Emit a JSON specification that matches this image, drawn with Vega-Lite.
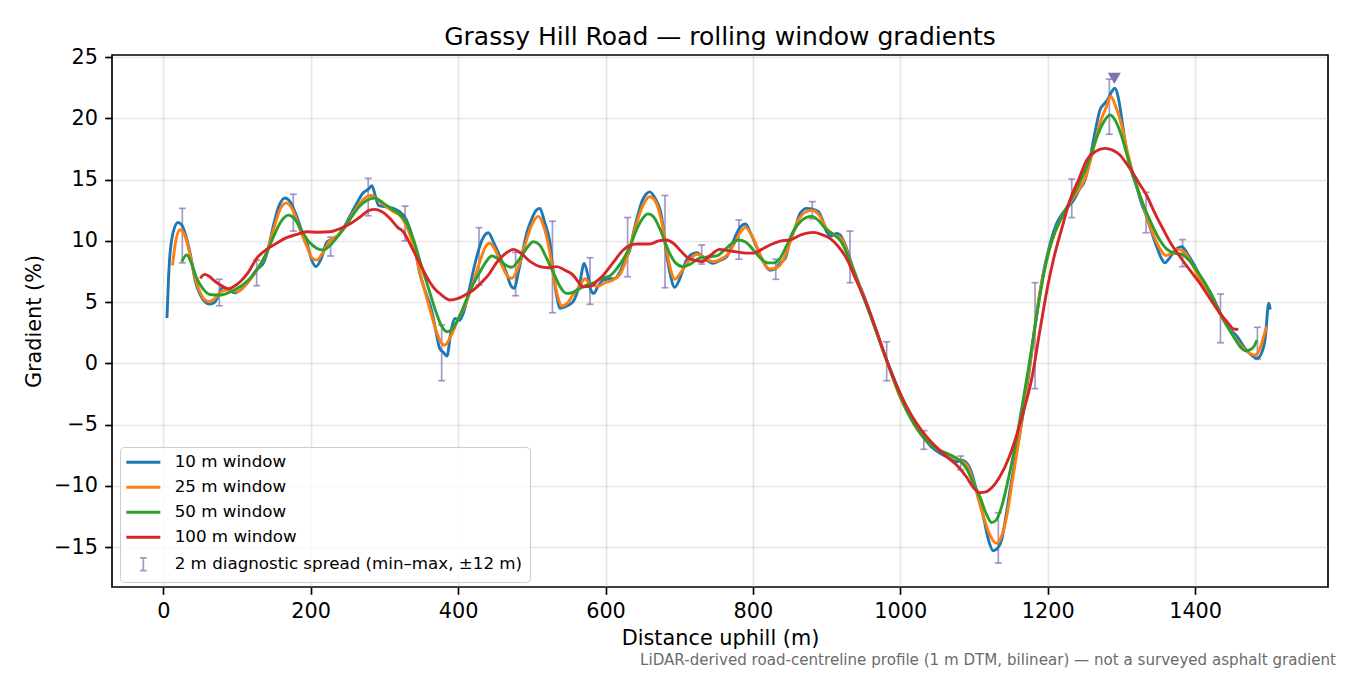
{
  "$schema": "https://vega.github.io/schema/vega-lite/v6.json",
  "width": 1216,
  "height": 532,
  "autosize": {"type": "none"},
  "padding": {"left": 112, "top": 55, "right": 22, "bottom": 88},
  "background": "white",
  "title": {
    "text": "Grassy Hill Road — rolling window gradients",
    "font": "DejaVu Sans",
    "fontSize": 25,
    "fontWeight": "normal",
    "color": "black",
    "anchor": "middle",
    "frame": "group",
    "baseline": "alphabetic",
    "offset": 13,
    "dy": 37
  },
  "datasets": {
    "lines": [
      {"s":"10 m window","x":5,"y":3.7},{"s":"10 m window","x":8,"y":8.0},{"s":"10 m window","x":13,"y":10.6},{"s":"10 m window","x":20,"y":11.5},{"s":"10 m window","x":25,"y":11.3},{"s":"10 m window","x":32,"y":10.1},{"s":"10 m window","x":38,"y":8.5},{"s":"10 m window","x":43,"y":6.8},{"s":"10 m window","x":50,"y":5.6},{"s":"10 m window","x":57,"y":5.0},{"s":"10 m window","x":63,"y":4.84},{"s":"10 m window","x":70,"y":5.0},{"s":"10 m window","x":76,"y":5.7},{"s":"10 m window","x":80,"y":6.2},{"s":"10 m window","x":88,"y":6.0},{"s":"10 m window","x":97,"y":5.75},{"s":"10 m window","x":105,"y":6.0},{"s":"10 m window","x":117,"y":6.8},{"s":"10 m window","x":126,"y":7.6},{"s":"10 m window","x":136,"y":8.2},{"s":"10 m window","x":143,"y":9.5},{"s":"10 m window","x":149,"y":11.15},{"s":"10 m window","x":156,"y":12.7},{"s":"10 m window","x":165,"y":13.5},{"s":"10 m window","x":172,"y":13.2},{"s":"10 m window","x":181,"y":12.0},{"s":"10 m window","x":188,"y":10.8},{"s":"10 m window","x":195,"y":9.8},{"s":"10 m window","x":201,"y":8.5},{"s":"10 m window","x":207,"y":7.9},{"s":"10 m window","x":214,"y":8.5},{"s":"10 m window","x":222,"y":9.9},{"s":"10 m window","x":228,"y":10.1},{"s":"10 m window","x":235,"y":10.3},{"s":"10 m window","x":244,"y":11.0},{"s":"10 m window","x":253,"y":12.0},{"s":"10 m window","x":262,"y":13.0},{"s":"10 m window","x":271,"y":13.9},{"s":"10 m window","x":278,"y":14.2},{"s":"10 m window","x":283,"y":14.5},{"s":"10 m window","x":288,"y":13.6},{"s":"10 m window","x":292,"y":12.9},{"s":"10 m window","x":300,"y":12.8},{"s":"10 m window","x":312,"y":12.65},{"s":"10 m window","x":320,"y":12.4},{"s":"10 m window","x":330,"y":11.7},{"s":"10 m window","x":340,"y":9.8},{"s":"10 m window","x":348,"y":7.35},{"s":"10 m window","x":356,"y":5.8},{"s":"10 m window","x":364,"y":4.35},{"s":"10 m window","x":370,"y":2.6},{"s":"10 m window","x":375,"y":1.22},{"s":"10 m window","x":380,"y":0.9},{"s":"10 m window","x":385,"y":0.6},{"s":"10 m window","x":390,"y":2.5},{"s":"10 m window","x":396,"y":3.67},{"s":"10 m window","x":402,"y":3.5},{"s":"10 m window","x":407,"y":4.08},{"s":"10 m window","x":415,"y":6.0},{"s":"10 m window","x":423,"y":8.16},{"s":"10 m window","x":432,"y":10.0},{"s":"10 m window","x":441,"y":10.66},{"s":"10 m window","x":448,"y":9.9},{"s":"10 m window","x":457,"y":8.7},{"s":"10 m window","x":466,"y":7.3},{"s":"10 m window","x":472,"y":6.3},{"s":"10 m window","x":476,"y":6.12},{"s":"10 m window","x":482,"y":7.5},{"s":"10 m window","x":488,"y":9.2},{"s":"10 m window","x":493,"y":10.6},{"s":"10 m window","x":500,"y":11.8},{"s":"10 m window","x":506,"y":12.5},{"s":"10 m window","x":511,"y":12.65},{"s":"10 m window","x":517,"y":11.6},{"s":"10 m window","x":524.7,"y":9.8},{"s":"10 m window","x":529,"y":7.5},{"s":"10 m window","x":534,"y":5.44},{"s":"10 m window","x":538,"y":4.49},{"s":"10 m window","x":545,"y":4.6},{"s":"10 m window","x":556,"y":5.03},{"s":"10 m window","x":565,"y":6.5},{"s":"10 m window","x":571,"y":8.16},{"s":"10 m window","x":576,"y":7.2},{"s":"10 m window","x":580,"y":6.0},{"s":"10 m window","x":584,"y":5.71},{"s":"10 m window","x":590,"y":6.3},{"s":"10 m window","x":597,"y":6.8},{"s":"10 m window","x":605,"y":6.9},{"s":"10 m window","x":613,"y":6.94},{"s":"10 m window","x":620,"y":7.5},{"s":"10 m window","x":627,"y":8.5},{"s":"10 m window","x":633,"y":9.25},{"s":"10 m window","x":638,"y":10.7},{"s":"10 m window","x":644.5,"y":12.24},{"s":"10 m window","x":650,"y":13.3},{"s":"10 m window","x":655,"y":13.8},{"s":"10 m window","x":660,"y":14.0},{"s":"10 m window","x":667,"y":13.5},{"s":"10 m window","x":676,"y":12.0},{"s":"10 m window","x":681,"y":9.7},{"s":"10 m window","x":687.5,"y":7.35},{"s":"10 m window","x":694,"y":6.2},{"s":"10 m window","x":700,"y":6.8},{"s":"10 m window","x":710,"y":8.43},{"s":"10 m window","x":717,"y":8.9},{"s":"10 m window","x":724,"y":9.03},{"s":"10 m window","x":730,"y":8.8},{"s":"10 m window","x":738,"y":8.4},{"s":"10 m window","x":746,"y":8.16},{"s":"10 m window","x":755,"y":8.4},{"s":"10 m window","x":764.5,"y":8.7},{"s":"10 m window","x":771,"y":9.6},{"s":"10 m window","x":778,"y":10.6},{"s":"10 m window","x":784,"y":11.2},{"s":"10 m window","x":790,"y":11.37},{"s":"10 m window","x":797,"y":10.6},{"s":"10 m window","x":805,"y":9.5},{"s":"10 m window","x":814,"y":8.3},{"s":"10 m window","x":823,"y":7.6},{"s":"10 m window","x":830,"y":7.7},{"s":"10 m window","x":837,"y":8.2},{"s":"10 m window","x":844,"y":8.6},{"s":"10 m window","x":850,"y":9.93},{"s":"10 m window","x":857,"y":11.0},{"s":"10 m window","x":864,"y":12.24},{"s":"10 m window","x":873,"y":12.65},{"s":"10 m window","x":880,"y":12.6},{"s":"10 m window","x":889,"y":12.38},{"s":"10 m window","x":895,"y":11.6},{"s":"10 m window","x":900,"y":10.74},{"s":"10 m window","x":907,"y":10.4},{"s":"10 m window","x":913,"y":10.6},{"s":"10 m window","x":918,"y":10.5},{"s":"10 m window","x":927,"y":9.4},{"s":"10 m window","x":935,"y":7.9},{"s":"10 m window","x":944,"y":6.5},{"s":"10 m window","x":952,"y":5.3},{"s":"10 m window","x":967,"y":2.7},{"s":"10 m window","x":981.5,"y":0.27},{"s":"10 m window","x":995,"y":-1.8},{"s":"10 m window","x":1008.7,"y":-3.8},{"s":"10 m window","x":1020,"y":-5.0},{"s":"10 m window","x":1031,"y":-6.0},{"s":"10 m window","x":1042,"y":-6.8},{"s":"10 m window","x":1054,"y":-7.35},{"s":"10 m window","x":1065,"y":-7.7},{"s":"10 m window","x":1076.5,"y":-8.03},{"s":"10 m window","x":1083,"y":-7.9},{"s":"10 m window","x":1088,"y":-8.03},{"s":"10 m window","x":1093,"y":-8.4},{"s":"10 m window","x":1097,"y":-8.98},{"s":"10 m window","x":1105,"y":-10.8},{"s":"10 m window","x":1112.6,"y":-12.5},{"s":"10 m window","x":1120,"y":-14.5},{"s":"10 m window","x":1126,"y":-15.3},{"s":"10 m window","x":1132,"y":-15.1},{"s":"10 m window","x":1137.6,"y":-14.4},{"s":"10 m window","x":1143,"y":-12.6},{"s":"10 m window","x":1149,"y":-10.3},{"s":"10 m window","x":1156,"y":-7.8},{"s":"10 m window","x":1163,"y":-5.44},{"s":"10 m window","x":1168,"y":-3.6},{"s":"10 m window","x":1174,"y":-1.1},{"s":"10 m window","x":1180,"y":1.8},{"s":"10 m window","x":1187,"y":4.8},{"s":"10 m window","x":1194,"y":7.35},{"s":"10 m window","x":1203,"y":9.7},{"s":"10 m window","x":1212,"y":11.4},{"s":"10 m window","x":1221,"y":12.3},{"s":"10 m window","x":1228,"y":12.8},{"s":"10 m window","x":1235,"y":13.3},{"s":"10 m window","x":1243,"y":14.2},{"s":"10 m window","x":1250.6,"y":14.96},{"s":"10 m window","x":1257,"y":16.6},{"s":"10 m window","x":1264,"y":18.8},{"s":"10 m window","x":1271,"y":20.7},{"s":"10 m window","x":1277,"y":21.2},{"s":"10 m window","x":1282,"y":21.6},{"s":"10 m window","x":1287,"y":22.2},{"s":"10 m window","x":1291,"y":22.45},{"s":"10 m window","x":1295,"y":21.9},{"s":"10 m window","x":1298,"y":20.95},{"s":"10 m window","x":1302,"y":19.3},{"s":"10 m window","x":1307,"y":17.4},{"s":"10 m window","x":1314,"y":15.6},{"s":"10 m window","x":1320.7,"y":14.4},{"s":"10 m window","x":1327,"y":13.1},{"s":"10 m window","x":1334,"y":12.0},{"s":"10 m window","x":1341,"y":10.7},{"s":"10 m window","x":1348,"y":9.5},{"s":"10 m window","x":1354,"y":8.6},{"s":"10 m window","x":1359,"y":8.2},{"s":"10 m window","x":1364,"y":8.5},{"s":"10 m window","x":1370,"y":9.0},{"s":"10 m window","x":1376,"y":9.4},{"s":"10 m window","x":1382,"y":9.52},{"s":"10 m window","x":1390,"y":8.9},{"s":"10 m window","x":1397.6,"y":8.16},{"s":"10 m window","x":1406,"y":7.2},{"s":"10 m window","x":1416,"y":6.25},{"s":"10 m window","x":1425,"y":5.3},{"s":"10 m window","x":1434,"y":4.08},{"s":"10 m window","x":1445,"y":2.9},{"s":"10 m window","x":1457,"y":2.2},{"s":"10 m window","x":1468,"y":1.2},{"s":"10 m window","x":1478,"y":0.6},{"s":"10 m window","x":1484,"y":0.4},{"s":"10 m window","x":1490,"y":0.8},{"s":"10 m window","x":1495,"y":2.0},{"s":"10 m window","x":1500,"y":4.9},{"s":"10 m window","x":1502,"y":4.4},
      {"s":"25 m window","x":12.5,"y":8.0},{"s":"25 m window","x":17,"y":10.0},{"s":"25 m window","x":22.6,"y":10.9},{"s":"25 m window","x":28,"y":10.6},{"s":"25 m window","x":35,"y":9.2},{"s":"25 m window","x":43,"y":7.0},{"s":"25 m window","x":50,"y":5.8},{"s":"25 m window","x":56,"y":5.2},{"s":"25 m window","x":62.4,"y":5.03},{"s":"25 m window","x":70,"y":5.3},{"s":"25 m window","x":80,"y":5.9},{"s":"25 m window","x":90,"y":6.0},{"s":"25 m window","x":100,"y":5.85},{"s":"25 m window","x":110,"y":6.3},{"s":"25 m window","x":120,"y":7.0},{"s":"25 m window","x":130,"y":7.9},{"s":"25 m window","x":140,"y":9.0},{"s":"25 m window","x":150,"y":11.0},{"s":"25 m window","x":158,"y":12.5},{"s":"25 m window","x":166.5,"y":13.1},{"s":"25 m window","x":175,"y":12.6},{"s":"25 m window","x":185,"y":11.0},{"s":"25 m window","x":195,"y":9.5},{"s":"25 m window","x":202,"y":8.6},{"s":"25 m window","x":208,"y":8.43},{"s":"25 m window","x":216,"y":9.0},{"s":"25 m window","x":226,"y":10.0},{"s":"25 m window","x":236,"y":10.4},{"s":"25 m window","x":246,"y":11.1},{"s":"25 m window","x":256,"y":12.1},{"s":"25 m window","x":266,"y":13.0},{"s":"25 m window","x":276,"y":13.6},{"s":"25 m window","x":283,"y":13.7},{"s":"25 m window","x":290,"y":13.4},{"s":"25 m window","x":300,"y":12.9},{"s":"25 m window","x":312,"y":12.4},{"s":"25 m window","x":322,"y":12.0},{"s":"25 m window","x":330,"y":11.2},{"s":"25 m window","x":340,"y":9.5},{"s":"25 m window","x":350,"y":7.0},{"s":"25 m window","x":360,"y":4.8},{"s":"25 m window","x":370,"y":2.7},{"s":"25 m window","x":377,"y":1.7},{"s":"25 m window","x":382,"y":1.5},{"s":"25 m window","x":390,"y":2.2},{"s":"25 m window","x":400,"y":3.6},{"s":"25 m window","x":410,"y":4.8},{"s":"25 m window","x":420,"y":6.5},{"s":"25 m window","x":430,"y":8.4},{"s":"25 m window","x":437,"y":9.5},{"s":"25 m window","x":443,"y":9.8},{"s":"25 m window","x":450,"y":9.3},{"s":"25 m window","x":458,"y":8.2},{"s":"25 m window","x":466,"y":7.2},{"s":"25 m window","x":472.7,"y":6.94},{"s":"25 m window","x":480,"y":7.6},{"s":"25 m window","x":490,"y":9.5},{"s":"25 m window","x":500,"y":11.3},{"s":"25 m window","x":509,"y":12.0},{"s":"25 m window","x":516,"y":11.2},{"s":"25 m window","x":523,"y":9.5},{"s":"25 m window","x":530,"y":7.0},{"s":"25 m window","x":535,"y":5.5},{"s":"25 m window","x":540.6,"y":4.68},{"s":"25 m window","x":548,"y":4.9},{"s":"25 m window","x":556,"y":5.6},{"s":"25 m window","x":565,"y":6.3},{"s":"25 m window","x":572,"y":6.9},{"s":"25 m window","x":580,"y":6.4},{"s":"25 m window","x":590,"y":6.3},{"s":"25 m window","x":600,"y":6.6},{"s":"25 m window","x":610,"y":6.8},{"s":"25 m window","x":620,"y":7.3},{"s":"25 m window","x":630,"y":8.8},{"s":"25 m window","x":640,"y":11.0},{"s":"25 m window","x":650,"y":12.8},{"s":"25 m window","x":660,"y":13.6},{"s":"25 m window","x":668,"y":13.2},{"s":"25 m window","x":676,"y":11.6},{"s":"25 m window","x":683,"y":9.2},{"s":"25 m window","x":689,"y":7.5},{"s":"25 m window","x":694,"y":6.86},{"s":"25 m window","x":702,"y":7.4},{"s":"25 m window","x":712,"y":8.3},{"s":"25 m window","x":724,"y":8.9},{"s":"25 m window","x":735,"y":8.6},{"s":"25 m window","x":746,"y":8.3},{"s":"25 m window","x":756,"y":8.5},{"s":"25 m window","x":766,"y":8.9},{"s":"25 m window","x":775,"y":9.8},{"s":"25 m window","x":783,"y":10.7},{"s":"25 m window","x":790,"y":11.1},{"s":"25 m window","x":797,"y":10.6},{"s":"25 m window","x":805,"y":9.6},{"s":"25 m window","x":814,"y":8.3},{"s":"25 m window","x":823,"y":7.7},{"s":"25 m window","x":832,"y":7.8},{"s":"25 m window","x":840,"y":8.3},{"s":"25 m window","x":850,"y":9.8},{"s":"25 m window","x":860,"y":11.5},{"s":"25 m window","x":870,"y":12.3},{"s":"25 m window","x":880,"y":12.5},{"s":"25 m window","x":890,"y":12.1},{"s":"25 m window","x":900,"y":11.0},{"s":"25 m window","x":910,"y":10.5},{"s":"25 m window","x":920,"y":10.2},{"s":"25 m window","x":930,"y":8.7},{"s":"25 m window","x":945,"y":6.3},{"s":"25 m window","x":960,"y":3.9},{"s":"25 m window","x":981,"y":0.3},{"s":"25 m window","x":1000,"y":-2.8},{"s":"25 m window","x":1020,"y":-5.1},{"s":"25 m window","x":1035,"y":-6.3},{"s":"25 m window","x":1050,"y":-7.0},{"s":"25 m window","x":1065,"y":-7.5},{"s":"25 m window","x":1080,"y":-7.9},{"s":"25 m window","x":1090,"y":-8.3},{"s":"25 m window","x":1100,"y":-9.8},{"s":"25 m window","x":1110,"y":-11.9},{"s":"25 m window","x":1120,"y":-13.8},{"s":"25 m window","x":1130.8,"y":-14.7},{"s":"25 m window","x":1138,"y":-14.0},{"s":"25 m window","x":1145,"y":-12.3},{"s":"25 m window","x":1152,"y":-9.6},{"s":"25 m window","x":1160,"y":-6.6},{"s":"25 m window","x":1170,"y":-2.5},{"s":"25 m window","x":1180,"y":1.8},{"s":"25 m window","x":1190,"y":6.0},{"s":"25 m window","x":1200,"y":8.8},{"s":"25 m window","x":1212,"y":11.0},{"s":"25 m window","x":1225,"y":12.6},{"s":"25 m window","x":1240,"y":14.0},{"s":"25 m window","x":1252,"y":15.3},{"s":"25 m window","x":1262,"y":17.5},{"s":"25 m window","x":1272,"y":19.8},{"s":"25 m window","x":1280,"y":21.0},{"s":"25 m window","x":1285.5,"y":21.8},{"s":"25 m window","x":1292,"y":21.0},{"s":"25 m window","x":1300,"y":19.5},{"s":"25 m window","x":1308,"y":17.3},{"s":"25 m window","x":1318,"y":15.0},{"s":"25 m window","x":1328,"y":13.2},{"s":"25 m window","x":1340,"y":11.0},{"s":"25 m window","x":1352,"y":9.4},{"s":"25 m window","x":1360,"y":8.8},{"s":"25 m window","x":1368,"y":9.0},{"s":"25 m window","x":1377,"y":9.3},{"s":"25 m window","x":1385,"y":9.1},{"s":"25 m window","x":1395,"y":8.2},{"s":"25 m window","x":1405,"y":7.0},{"s":"25 m window","x":1420,"y":5.5},{"s":"25 m window","x":1434,"y":4.0},{"s":"25 m window","x":1448,"y":2.6},{"s":"25 m window","x":1460,"y":1.6},{"s":"25 m window","x":1470,"y":1.0},{"s":"25 m window","x":1481,"y":0.68},{"s":"25 m window","x":1488,"y":1.2},{"s":"25 m window","x":1493,"y":2.2},{"s":"25 m window","x":1497,"y":3.0},
      {"s":"50 m window","x":25,"y":8.3},{"s":"50 m window","x":31.7,"y":8.84},{"s":"50 m window","x":38,"y":8.2},{"s":"50 m window","x":45,"y":7.0},{"s":"50 m window","x":55,"y":6.0},{"s":"50 m window","x":65,"y":5.6},{"s":"50 m window","x":79,"y":5.58},{"s":"50 m window","x":90,"y":5.8},{"s":"50 m window","x":100,"y":6.1},{"s":"50 m window","x":110,"y":6.5},{"s":"50 m window","x":120,"y":7.1},{"s":"50 m window","x":130,"y":7.9},{"s":"50 m window","x":140,"y":9.0},{"s":"50 m window","x":150,"y":10.4},{"s":"50 m window","x":160,"y":11.6},{"s":"50 m window","x":169.6,"y":12.1},{"s":"50 m window","x":178,"y":11.8},{"s":"50 m window","x":188,"y":10.8},{"s":"50 m window","x":198,"y":9.9},{"s":"50 m window","x":208,"y":9.4},{"s":"50 m window","x":217,"y":9.25},{"s":"50 m window","x":226,"y":9.6},{"s":"50 m window","x":236,"y":10.3},{"s":"50 m window","x":246,"y":11.1},{"s":"50 m window","x":256,"y":12.0},{"s":"50 m window","x":266,"y":12.8},{"s":"50 m window","x":276,"y":13.3},{"s":"50 m window","x":287,"y":13.5},{"s":"50 m window","x":298,"y":13.1},{"s":"50 m window","x":310,"y":12.6},{"s":"50 m window","x":320,"y":12.2},{"s":"50 m window","x":330,"y":11.5},{"s":"50 m window","x":340,"y":10.0},{"s":"50 m window","x":350,"y":8.0},{"s":"50 m window","x":360,"y":6.1},{"s":"50 m window","x":370,"y":4.2},{"s":"50 m window","x":378,"y":3.0},{"s":"50 m window","x":385,"y":2.58},{"s":"50 m window","x":392,"y":2.8},{"s":"50 m window","x":400,"y":3.6},{"s":"50 m window","x":410,"y":5.0},{"s":"50 m window","x":420,"y":6.4},{"s":"50 m window","x":430,"y":7.5},{"s":"50 m window","x":438,"y":8.3},{"s":"50 m window","x":445.6,"y":8.76},{"s":"50 m window","x":455,"y":8.5},{"s":"50 m window","x":465,"y":8.0},{"s":"50 m window","x":472.7,"y":7.84},{"s":"50 m window","x":482,"y":8.4},{"s":"50 m window","x":492,"y":9.3},{"s":"50 m window","x":502,"y":9.93},{"s":"50 m window","x":510,"y":9.7},{"s":"50 m window","x":520,"y":8.6},{"s":"50 m window","x":530,"y":7.3},{"s":"50 m window","x":540,"y":6.1},{"s":"50 m window","x":547,"y":5.71},{"s":"50 m window","x":556,"y":5.8},{"s":"50 m window","x":565,"y":6.1},{"s":"50 m window","x":575,"y":6.4},{"s":"50 m window","x":585,"y":6.6},{"s":"50 m window","x":594,"y":6.94},{"s":"50 m window","x":605,"y":7.1},{"s":"50 m window","x":615,"y":7.7},{"s":"50 m window","x":625,"y":8.6},{"s":"50 m window","x":633,"y":9.5},{"s":"50 m window","x":642,"y":10.9},{"s":"50 m window","x":650,"y":11.8},{"s":"50 m window","x":658,"y":12.2},{"s":"50 m window","x":666,"y":11.9},{"s":"50 m window","x":675,"y":10.8},{"s":"50 m window","x":685,"y":9.25},{"s":"50 m window","x":695,"y":8.2},{"s":"50 m window","x":705.6,"y":7.89},{"s":"50 m window","x":715,"y":8.1},{"s":"50 m window","x":728,"y":8.6},{"s":"50 m window","x":741,"y":8.7},{"s":"50 m window","x":752,"y":8.8},{"s":"50 m window","x":762,"y":9.3},{"s":"50 m window","x":772,"y":9.8},{"s":"50 m window","x":780,"y":10.07},{"s":"50 m window","x":790,"y":9.9},{"s":"50 m window","x":800,"y":9.3},{"s":"50 m window","x":810,"y":8.6},{"s":"50 m window","x":820,"y":8.2},{"s":"50 m window","x":827.7,"y":8.2},{"s":"50 m window","x":836,"y":8.5},{"s":"50 m window","x":845,"y":9.5},{"s":"50 m window","x":855,"y":10.8},{"s":"50 m window","x":865,"y":11.6},{"s":"50 m window","x":872,"y":11.9},{"s":"50 m window","x":880,"y":12.0},{"s":"50 m window","x":890,"y":11.6},{"s":"50 m window","x":900,"y":10.9},{"s":"50 m window","x":910,"y":10.5},{"s":"50 m window","x":920,"y":9.9},{"s":"50 m window","x":930,"y":8.6},{"s":"50 m window","x":945,"y":6.2},{"s":"50 m window","x":960,"y":3.8},{"s":"50 m window","x":981,"y":0.3},{"s":"50 m window","x":1000,"y":-2.7},{"s":"50 m window","x":1020,"y":-5.1},{"s":"50 m window","x":1035,"y":-6.3},{"s":"50 m window","x":1050,"y":-7.0},{"s":"50 m window","x":1065,"y":-7.4},{"s":"50 m window","x":1080,"y":-7.9},{"s":"50 m window","x":1090,"y":-8.6},{"s":"50 m window","x":1100,"y":-9.9},{"s":"50 m window","x":1108,"y":-10.9},{"s":"50 m window","x":1116,"y":-12.2},{"s":"50 m window","x":1124,"y":-13.0},{"s":"50 m window","x":1130,"y":-12.8},{"s":"50 m window","x":1138,"y":-11.6},{"s":"50 m window","x":1146,"y":-9.6},{"s":"50 m window","x":1155,"y":-7.0},{"s":"50 m window","x":1165,"y":-3.6},{"s":"50 m window","x":1175,"y":0.0},{"s":"50 m window","x":1185,"y":3.9},{"s":"50 m window","x":1195,"y":7.4},{"s":"50 m window","x":1205,"y":9.9},{"s":"50 m window","x":1218,"y":11.8},{"s":"50 m window","x":1230,"y":13.2},{"s":"50 m window","x":1242,"y":14.6},{"s":"50 m window","x":1255,"y":16.4},{"s":"50 m window","x":1265,"y":18.2},{"s":"50 m window","x":1275,"y":19.6},{"s":"50 m window","x":1284.5,"y":20.27},{"s":"50 m window","x":1292,"y":19.8},{"s":"50 m window","x":1300,"y":18.6},{"s":"50 m window","x":1310,"y":16.5},{"s":"50 m window","x":1320,"y":14.6},{"s":"50 m window","x":1330,"y":12.9},{"s":"50 m window","x":1340,"y":11.5},{"s":"50 m window","x":1352,"y":10.07},{"s":"50 m window","x":1362,"y":9.3},{"s":"50 m window","x":1372,"y":9.0},{"s":"50 m window","x":1382,"y":8.9},{"s":"50 m window","x":1392,"y":8.4},{"s":"50 m window","x":1402,"y":7.6},{"s":"50 m window","x":1412,"y":6.7},{"s":"50 m window","x":1422,"y":5.6},{"s":"50 m window","x":1434,"y":4.1},{"s":"50 m window","x":1445,"y":2.9},{"s":"50 m window","x":1455,"y":1.9},{"s":"50 m window","x":1462,"y":1.3},{"s":"50 m window","x":1467.7,"y":1.03},{"s":"50 m window","x":1474,"y":1.1},{"s":"50 m window","x":1480,"y":1.4},{"s":"50 m window","x":1484,"y":1.9},
      {"s":"100 m window","x":50,"y":6.94},{"s":"100 m window","x":56.6,"y":7.26},{"s":"100 m window","x":62,"y":7.1},{"s":"100 m window","x":70,"y":6.7},{"s":"100 m window","x":80,"y":6.3},{"s":"100 m window","x":88,"y":6.1},{"s":"100 m window","x":95,"y":6.25},{"s":"100 m window","x":105,"y":6.7},{"s":"100 m window","x":115,"y":7.4},{"s":"100 m window","x":126.7,"y":8.57},{"s":"100 m window","x":140,"y":9.3},{"s":"100 m window","x":153.9,"y":9.8},{"s":"100 m window","x":165,"y":10.2},{"s":"100 m window","x":180,"y":10.5},{"s":"100 m window","x":194.6,"y":10.74},{"s":"100 m window","x":210,"y":10.7},{"s":"100 m window","x":226,"y":10.74},{"s":"100 m window","x":240,"y":11.0},{"s":"100 m window","x":253,"y":11.37},{"s":"100 m window","x":266,"y":11.9},{"s":"100 m window","x":280,"y":12.5},{"s":"100 m window","x":287,"y":12.57},{"s":"100 m window","x":296,"y":12.4},{"s":"100 m window","x":308,"y":11.8},{"s":"100 m window","x":318,"y":11.1},{"s":"100 m window","x":325.6,"y":10.74},{"s":"100 m window","x":336,"y":9.6},{"s":"100 m window","x":348,"y":8.16},{"s":"100 m window","x":357,"y":7.1},{"s":"100 m window","x":366,"y":6.25},{"s":"100 m window","x":377,"y":5.6},{"s":"100 m window","x":389,"y":5.17},{"s":"100 m window","x":400,"y":5.3},{"s":"100 m window","x":410,"y":5.6},{"s":"100 m window","x":420.6,"y":5.98},{"s":"100 m window","x":430,"y":6.5},{"s":"100 m window","x":441,"y":7.2},{"s":"100 m window","x":452,"y":8.2},{"s":"100 m window","x":465,"y":9.0},{"s":"100 m window","x":475,"y":9.3},{"s":"100 m window","x":485,"y":9.0},{"s":"100 m window","x":498,"y":8.3},{"s":"100 m window","x":511,"y":7.89},{"s":"100 m window","x":522,"y":7.8},{"s":"100 m window","x":533.8,"y":7.89},{"s":"100 m window","x":545,"y":7.6},{"s":"100 m window","x":556,"y":7.2},{"s":"100 m window","x":565,"y":6.5},{"s":"100 m window","x":570,"y":6.25},{"s":"100 m window","x":580,"y":6.3},{"s":"100 m window","x":590,"y":6.8},{"s":"100 m window","x":597,"y":7.2},{"s":"100 m window","x":610,"y":8.2},{"s":"100 m window","x":624,"y":9.25},{"s":"100 m window","x":642,"y":9.74},{"s":"100 m window","x":660,"y":9.74},{"s":"100 m window","x":672,"y":10.0},{"s":"100 m window","x":683,"y":10.07},{"s":"100 m window","x":692,"y":9.8},{"s":"100 m window","x":701,"y":9.25},{"s":"100 m window","x":712,"y":8.6},{"s":"100 m window","x":722,"y":8.4},{"s":"100 m window","x":730.5,"y":8.3},{"s":"100 m window","x":742,"y":8.8},{"s":"100 m window","x":755,"y":9.3},{"s":"100 m window","x":766,"y":9.2},{"s":"100 m window","x":778,"y":9.1},{"s":"100 m window","x":790,"y":9.0},{"s":"100 m window","x":801,"y":9.0},{"s":"100 m window","x":812,"y":9.3},{"s":"100 m window","x":823,"y":9.66},{"s":"100 m window","x":837,"y":9.98},{"s":"100 m window","x":850,"y":10.07},{"s":"100 m window","x":866,"y":10.5},{"s":"100 m window","x":882,"y":10.69},{"s":"100 m window","x":894,"y":10.5},{"s":"100 m window","x":904.6,"y":10.2},{"s":"100 m window","x":915,"y":9.6},{"s":"100 m window","x":927,"y":8.57},{"s":"100 m window","x":940,"y":6.8},{"s":"100 m window","x":954,"y":4.9},{"s":"100 m window","x":968,"y":2.6},{"s":"100 m window","x":981.5,"y":0.27},{"s":"100 m window","x":995,"y":-1.8},{"s":"100 m window","x":1008.7,"y":-3.54},{"s":"100 m window","x":1022,"y":-4.9},{"s":"100 m window","x":1035.8,"y":-6.0},{"s":"100 m window","x":1050,"y":-6.9},{"s":"100 m window","x":1063,"y":-7.62},{"s":"100 m window","x":1078,"y":-8.4},{"s":"100 m window","x":1090,"y":-9.3},{"s":"100 m window","x":1100,"y":-10.2},{"s":"100 m window","x":1108,"y":-10.56},{"s":"100 m window","x":1116,"y":-10.5},{"s":"100 m window","x":1125,"y":-10.1},{"s":"100 m window","x":1135,"y":-9.26},{"s":"100 m window","x":1148,"y":-7.6},{"s":"100 m window","x":1160,"y":-5.44},{"s":"100 m window","x":1170,"y":-3.3},{"s":"100 m window","x":1178,"y":-1.36},{"s":"100 m window","x":1189.5,"y":2.72},{"s":"100 m window","x":1200,"y":6.3},{"s":"100 m window","x":1207.6,"y":8.43},{"s":"100 m window","x":1220,"y":11.2},{"s":"100 m window","x":1230,"y":13.3},{"s":"100 m window","x":1242,"y":15.0},{"s":"100 m window","x":1253,"y":16.6},{"s":"100 m window","x":1265,"y":17.3},{"s":"100 m window","x":1277.8,"y":17.55},{"s":"100 m window","x":1288,"y":17.4},{"s":"100 m window","x":1298,"y":17.0},{"s":"100 m window","x":1307,"y":16.3},{"s":"100 m window","x":1316,"y":15.5},{"s":"100 m window","x":1325,"y":14.6},{"s":"100 m window","x":1334,"y":13.74},{"s":"100 m window","x":1345,"y":12.3},{"s":"100 m window","x":1357,"y":10.9},{"s":"100 m window","x":1368,"y":9.7},{"s":"100 m window","x":1379.5,"y":8.7},{"s":"100 m window","x":1393,"y":7.6},{"s":"100 m window","x":1406.6,"y":6.53},{"s":"100 m window","x":1420,"y":5.3},{"s":"100 m window","x":1434,"y":4.08},{"s":"100 m window","x":1446,"y":3.2},{"s":"100 m window","x":1452,"y":2.8},{"s":"100 m window","x":1458.6,"y":2.77}
    ],
    "errs": [
      {"s":"2 m diagnostic spread (min–max, ±12 m)","x":25.8,"lo":8.2,"hi":12.65},
      {"s":"2 m diagnostic spread (min–max, ±12 m)","x":76,"lo":4.7,"hi":6.86},
      {"s":"2 m diagnostic spread (min–max, ±12 m)","x":126.7,"lo":6.34,"hi":8.43},
      {"s":"2 m diagnostic spread (min–max, ±12 m)","x":176.4,"lo":10.8,"hi":13.8},
      {"s":"2 m diagnostic spread (min–max, ±12 m)","x":227,"lo":8.76,"hi":10.3},
      {"s":"2 m diagnostic spread (min–max, ±12 m)","x":278,"lo":12.05,"hi":15.1},
      {"s":"2 m diagnostic spread (min–max, ±12 m)","x":328,"lo":10.0,"hi":12.84},
      {"s":"2 m diagnostic spread (min–max, ±12 m)","x":377.7,"lo":-1.42,"hi":3.13},
      {"s":"2 m diagnostic spread (min–max, ±12 m)","x":428.4,"lo":6.39,"hi":11.07},
      {"s":"2 m diagnostic spread (min–max, ±12 m)","x":478,"lo":5.52,"hi":9.06},
      {"s":"2 m diagnostic spread (min–max, ±12 m)","x":528,"lo":4.13,"hi":11.6},
      {"s":"2 m diagnostic spread (min–max, ±12 m)","x":579,"lo":4.82,"hi":8.62},
      {"s":"2 m diagnostic spread (min–max, ±12 m)","x":630,"lo":7.07,"hi":11.9},
      {"s":"2 m diagnostic spread (min–max, ±12 m)","x":680.7,"lo":6.17,"hi":13.7},
      {"s":"2 m diagnostic spread (min–max, ±12 m)","x":730.5,"lo":8.1,"hi":9.66},
      {"s":"2 m diagnostic spread (min–max, ±12 m)","x":781,"lo":8.5,"hi":11.7},
      {"s":"2 m diagnostic spread (min–max, ±12 m)","x":831,"lo":6.86,"hi":8.5},
      {"s":"2 m diagnostic spread (min–max, ±12 m)","x":880.6,"lo":11.8,"hi":13.2},
      {"s":"2 m diagnostic spread (min–max, ±12 m)","x":931.7,"lo":6.58,"hi":10.8},
      {"s":"2 m diagnostic spread (min–max, ±12 m)","x":981.5,"lo":-1.42,"hi":1.76},
      {"s":"2 m diagnostic spread (min–max, ±12 m)","x":1032,"lo":-7.02,"hi":-5.5},
      {"s":"2 m diagnostic spread (min–max, ±12 m)","x":1082,"lo":-8.7,"hi":-7.57},
      {"s":"2 m diagnostic spread (min–max, ±12 m)","x":1133,"lo":-16.3,"hi":-12.2},
      {"s":"2 m diagnostic spread (min–max, ±12 m)","x":1182.8,"lo":-2.07,"hi":6.58},
      {"s":"2 m diagnostic spread (min–max, ±12 m)","x":1232.6,"lo":11.9,"hi":15.05},
      {"s":"2 m diagnostic spread (min–max, ±12 m)","x":1283.6,"lo":18.7,"hi":23.2},
      {"s":"2 m diagnostic spread (min–max, ±12 m)","x":1333.4,"lo":10.66,"hi":13.96},
      {"s":"2 m diagnostic spread (min–max, ±12 m)","x":1383,"lo":7.89,"hi":10.1},
      {"s":"2 m diagnostic spread (min–max, ±12 m)","x":1434.4,"lo":1.68,"hi":5.66},
      {"s":"2 m diagnostic spread (min–max, ±12 m)","x":1484.5,"lo":0.33,"hi":2.94}
    ],
    "peak": [{"x": 1290.4, "y": 23.26}],
    "note": [{"note": "LiDAR-derived road-centreline profile (1 m DTM, bilinear) — not a surveyed asphalt gradient"}]
  },
  "layer": [
    {
      "data": {"name": "errs"},
      "mark": {"type": "errorbar", "thickness": 1.7, "ticks": {"size": 7, "thickness": 1.7}},
      "encoding": {
        "x": {"field": "x", "type": "quantitative", "title": "Distance uphill (m)", "scale": {"domain": [-69.6, 1580.3], "nice": false, "zero": false}},
        "y": {"field": "lo", "type": "quantitative", "title": "Gradient (%)", "scale": {"domain": [-18.26, 25.17], "nice": false, "zero": false}},
        "y2": {"field": "hi"},
        "color": {"field": "s", "type": "nominal"},
        "opacity": {"value": 0.72}
      }
    },
    {
      "data": {"name": "lines"},
      "mark": {"type": "line", "strokeWidth": 2.9, "interpolate": "monotone"},
      "encoding": {
        "x": {
          "field": "x", "type": "quantitative", "title": "Distance uphill (m)",
          "scale": {"domain": [-69.6, 1580.3], "nice": false, "zero": false},
          "axis": {"values": [0, 200, 400, 600, 800, 1000, 1200, 1400], "format": "d"}
        },
        "y": {
          "field": "y", "type": "quantitative", "title": "Gradient (%)",
          "scale": {"domain": [-18.26, 25.17], "nice": false, "zero": false},
          "axis": {"values": [-15, -10, -5, 0, 5, 10, 15, 20, 25], "format": "d"}
        },
        "color": {
          "field": "s", "type": "nominal",
          "scale": {
            "domain": ["10 m window", "25 m window", "50 m window", "100 m window", "2 m diagnostic spread (min–max, ±12 m)"],
            "range": ["#1f77b4", "#ff7f0e", "#2ca02c", "#d62728", "#8172b2"]
          },
          "legend": {
            "title": null,
            "orient": "none",
            "legendX": 8,
            "legendY": 392,
            "symbolType": "M-2,0L2,0",
            "symbolSize": 289,
            "symbolStrokeWidth": 3,
            "symbolOffset": 8,
            "labelOffset": 23,
            "labelFont": "DejaVu Sans",
            "labelFontSize": 16.7,
            "labelColor": "black",
            "labelLimit": 0,
            "rowPadding": 7,
            "padding": 7,
            "fillColor": "rgba(255,255,255,0.8)",
            "strokeColor": "#cccccc",
            "cornerRadius": 4,
            "encode": {
              "symbols": {
                "update": {
                  "shape": {"signal": "datum.value === '2 m diagnostic spread (min–max, ±12 m)' ? 'M0,-0.75L0,0.75M-0.4,-0.75L0.4,-0.75M-0.4,0.75L0.4,0.75' : 'M-2,0L2,0'"},
                  "fill": {"value": "transparent"},
                  "stroke": {"scale": "color", "field": "value"},
                  "strokeWidth": {"signal": "datum.value === '2 m diagnostic spread (min–max, ±12 m)' ? 1.7 : 3"},
                  "opacity": {"signal": "datum.value === '2 m diagnostic spread (min–max, ±12 m)' ? 0.72 : 1"}
                }
              }
            }
          }
        }
      }
    },
    {
      "data": {"name": "peak"},
      "mark": {"type": "point", "shape": "triangle-down", "filled": true, "size": 170, "color": "#8172b2", "opacity": 1},
      "encoding": {
        "x": {"field": "x", "type": "quantitative"},
        "y": {"field": "y", "type": "quantitative"}
      }
    },
    {
      "data": {"name": "note"},
      "mark": {
        "type": "text", "align": "right", "baseline": "alphabetic",
        "x": {"expr": "width + 8"}, "y": {"expr": "height + 78"},
        "font": "DejaVu Sans", "fontSize": 15.1, "color": "#6b6b6b"
      },
      "encoding": {"text": {"field": "note"}}
    }
  ],
  "config": {
    "font": "DejaVu Sans",
    "view": {"stroke": "black", "strokeWidth": 1.67},
    "axis": {
      "domain": false,
      "grid": true,
      "gridColor": "#b0b0b0",
      "gridOpacity": 0.3,
      "gridWidth": 1.67,
      "ticks": true,
      "tickColor": "black",
      "tickSize": 7.3,
      "tickWidth": 1.67,
      "labelFont": "DejaVu Sans",
      "labelFontSize": 20.8,
      "labelColor": "black",
      "labelPadding": 7.3,
      "labelFlush": false,
      "labelOverlap": false,
      "titleFont": "DejaVu Sans",
      "titleFontSize": 20.8,
      "titleFontWeight": "normal",
      "titleColor": "black"
    },
    "axisX": {"titlePadding": 7},
    "axisY": {"titlePadding": 9}
  }
}
